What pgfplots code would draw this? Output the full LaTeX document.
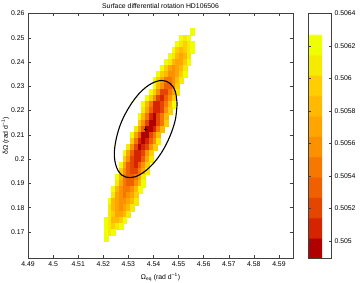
\documentclass[border=0pt]{standalone}
\usepackage{fontspec}
\setmainfont{Liberation Sans}
\usepackage{pgfplots}
\pgfplotsset{compat=1.18}
\usepackage{pgfplotstable}

\pgfplotstableread{
x y z
4.5555 0.2525 0.50621
4.5510 0.2500 0.50621
4.5525 0.2500 0.50609
4.5540 0.2500 0.50621
4.5495 0.2475 0.50621
4.5510 0.2475 0.50609
4.5525 0.2475 0.50596
4.5540 0.2475 0.50609
4.5555 0.2475 0.50621
4.5480 0.2450 0.50621
4.5495 0.2450 0.50596
4.5510 0.2450 0.50584
4.5525 0.2450 0.50596
4.5540 0.2450 0.50609
4.5555 0.2450 0.50621
4.5465 0.2425 0.50621
4.5480 0.2425 0.50609
4.5495 0.2425 0.50584
4.5510 0.2425 0.50571
4.5525 0.2425 0.50584
4.5540 0.2425 0.50609
4.5450 0.2400 0.50621
4.5465 0.2400 0.50609
4.5480 0.2400 0.50584
4.5495 0.2400 0.50571
4.5510 0.2400 0.50571
4.5525 0.2400 0.50596
4.5540 0.2400 0.50621
4.5435 0.2375 0.50621
4.5450 0.2375 0.50596
4.5465 0.2375 0.50571
4.5480 0.2375 0.50558
4.5495 0.2375 0.50571
4.5510 0.2375 0.50584
4.5525 0.2375 0.50609
4.5420 0.2350 0.50621
4.5435 0.2350 0.50596
4.5450 0.2350 0.50584
4.5465 0.2350 0.50558
4.5480 0.2350 0.50558
4.5495 0.2350 0.50571
4.5510 0.2350 0.50596
4.5525 0.2350 0.50621
4.5405 0.2325 0.50621
4.5420 0.2325 0.50596
4.5435 0.2325 0.50571
4.5450 0.2325 0.50546
4.5465 0.2325 0.50546
4.5480 0.2325 0.50558
4.5495 0.2325 0.50584
4.5510 0.2325 0.50609
4.5405 0.2300 0.50621
4.5420 0.2300 0.50584
4.5435 0.2300 0.50558
4.5450 0.2300 0.50533
4.5465 0.2300 0.50533
4.5480 0.2300 0.50558
4.5495 0.2300 0.50596
4.5390 0.2275 0.50621
4.5405 0.2275 0.50596
4.5420 0.2275 0.50558
4.5435 0.2275 0.50521
4.5450 0.2275 0.50521
4.5465 0.2275 0.50546
4.5480 0.2275 0.50571
4.5495 0.2275 0.50609
4.5375 0.2250 0.50621
4.5390 0.2250 0.50596
4.5405 0.2250 0.50558
4.5420 0.2250 0.50521
4.5435 0.2250 0.50508
4.5450 0.2250 0.50533
4.5465 0.2250 0.50558
4.5480 0.2250 0.50596
4.5360 0.2225 0.50621
4.5375 0.2225 0.50584
4.5390 0.2225 0.50546
4.5405 0.2225 0.50508
4.5420 0.2225 0.50508
4.5435 0.2225 0.50521
4.5450 0.2225 0.50546
4.5465 0.2225 0.50584
4.5480 0.2225 0.50621
4.5360 0.2200 0.50609
4.5375 0.2200 0.50571
4.5390 0.2200 0.50533
4.5405 0.2200 0.50508
4.5420 0.2200 0.50508
4.5435 0.2200 0.50521
4.5450 0.2200 0.50558
4.5465 0.2200 0.50596
4.5345 0.2175 0.50621
4.5360 0.2175 0.50584
4.5375 0.2175 0.50546
4.5390 0.2175 0.50508
4.5405 0.2175 0.50496
4.5420 0.2175 0.50521
4.5435 0.2175 0.50546
4.5450 0.2175 0.50584
4.5345 0.2150 0.50596
4.5360 0.2150 0.50558
4.5375 0.2150 0.50521
4.5390 0.2150 0.50496
4.5405 0.2150 0.50496
4.5420 0.2150 0.50521
4.5435 0.2150 0.50546
4.5450 0.2150 0.50596
4.5330 0.2125 0.50609
4.5345 0.2125 0.50571
4.5360 0.2125 0.50533
4.5375 0.2125 0.50496
4.5390 0.2125 0.50496
4.5405 0.2125 0.50508
4.5420 0.2125 0.50546
4.5435 0.2125 0.50584
4.5315 0.2100 0.50621
4.5330 0.2100 0.50571
4.5345 0.2100 0.50533
4.5360 0.2100 0.50496
4.5375 0.2100 0.50496
4.5390 0.2100 0.50521
4.5405 0.2100 0.50546
4.5420 0.2100 0.50584
4.5315 0.2075 0.50596
4.5330 0.2075 0.50546
4.5345 0.2075 0.50508
4.5360 0.2075 0.50496
4.5375 0.2075 0.50508
4.5390 0.2075 0.50533
4.5405 0.2075 0.50558
4.5420 0.2075 0.50609
4.5300 0.2050 0.50609
4.5315 0.2050 0.50558
4.5330 0.2050 0.50521
4.5345 0.2050 0.50496
4.5360 0.2050 0.50508
4.5375 0.2050 0.50521
4.5390 0.2050 0.50558
4.5405 0.2050 0.50596
4.5285 0.2025 0.50621
4.5300 0.2025 0.50571
4.5315 0.2025 0.50533
4.5330 0.2025 0.50508
4.5345 0.2025 0.50508
4.5360 0.2025 0.50521
4.5375 0.2025 0.50558
4.5390 0.2025 0.50596
4.5285 0.2000 0.50596
4.5300 0.2000 0.50558
4.5315 0.2000 0.50521
4.5330 0.2000 0.50508
4.5345 0.2000 0.50508
4.5360 0.2000 0.50533
4.5375 0.2000 0.50571
4.5390 0.2000 0.50609
4.5270 0.1975 0.50621
4.5285 0.1975 0.50571
4.5300 0.1975 0.50533
4.5315 0.1975 0.50521
4.5330 0.1975 0.50508
4.5345 0.1975 0.50533
4.5360 0.1975 0.50558
4.5375 0.1975 0.50596
4.5270 0.1950 0.50596
4.5285 0.1950 0.50558
4.5300 0.1950 0.50533
4.5315 0.1950 0.50521
4.5330 0.1950 0.50521
4.5345 0.1950 0.50546
4.5360 0.1950 0.50571
4.5375 0.1950 0.50609
4.5255 0.1925 0.50621
4.5270 0.1925 0.50584
4.5285 0.1925 0.50546
4.5300 0.1925 0.50533
4.5315 0.1925 0.50533
4.5330 0.1925 0.50546
4.5345 0.1925 0.50571
4.5360 0.1925 0.50609
4.5255 0.1900 0.50609
4.5270 0.1900 0.50571
4.5285 0.1900 0.50546
4.5300 0.1900 0.50533
4.5315 0.1900 0.50533
4.5330 0.1900 0.50558
4.5345 0.1900 0.50584
4.5360 0.1900 0.50621
4.5240 0.1875 0.50621
4.5255 0.1875 0.50584
4.5270 0.1875 0.50558
4.5285 0.1875 0.50546
4.5300 0.1875 0.50546
4.5315 0.1875 0.50558
4.5330 0.1875 0.50584
4.5345 0.1875 0.50621
4.5240 0.1850 0.50609
4.5255 0.1850 0.50571
4.5270 0.1850 0.50558
4.5285 0.1850 0.50546
4.5300 0.1850 0.50558
4.5315 0.1850 0.50571
4.5330 0.1850 0.50596
4.5225 0.1825 0.50621
4.5240 0.1825 0.50584
4.5255 0.1825 0.50571
4.5270 0.1825 0.50558
4.5285 0.1825 0.50558
4.5300 0.1825 0.50571
4.5315 0.1825 0.50584
4.5330 0.1825 0.50609
4.5225 0.1800 0.50609
4.5240 0.1800 0.50584
4.5255 0.1800 0.50571
4.5270 0.1800 0.50558
4.5285 0.1800 0.50571
4.5300 0.1800 0.50584
4.5315 0.1800 0.50609
4.5225 0.1775 0.50609
4.5240 0.1775 0.50596
4.5255 0.1775 0.50571
4.5270 0.1775 0.50571
4.5285 0.1775 0.50584
4.5300 0.1775 0.50609
4.5210 0.1750 0.50621
4.5225 0.1750 0.50609
4.5240 0.1750 0.50584
4.5255 0.1750 0.50584
4.5270 0.1750 0.50596
4.5285 0.1750 0.50621
4.5210 0.1725 0.50621
4.5225 0.1725 0.50609
4.5240 0.1725 0.50596
4.5255 0.1725 0.50609
4.5270 0.1725 0.50621
4.5210 0.1700 0.50621
4.5225 0.1700 0.50609
4.5240 0.1700 0.50621
4.5210 0.1675 0.50621
}\cells

\begin{document}
\begin{tikzpicture}
\useasboundingbox (-28bp,-25bp) rectangle (333bp,258bp);
\begin{axis}[
  scale only axis,
  clip mode=individual,
  width=265bp, height=244.5bp,
  xmin=4.49, xmax=4.5956, ymin=0.1593, ymax=0.26,
  font=\fontsize{6.9}{8}\selectfont,
  /pgf/number format/assume math mode=true,
  scaled ticks=false,
  xtick={4.49,4.5,4.51,4.52,4.53,4.54,4.55,4.56,4.57,4.58,4.59},
  xticklabels={4.49,4.5,4.51,4.52,4.53,4.54,4.55,4.56,4.57,4.58,4.59},
  ytick={0.17,0.18,0.19,0.2,0.21,0.22,0.23,0.24,0.25,0.26},
  yticklabels={0.17,0.18,0.19,0.2,0.21,0.22,0.23,0.24,0.25,0.26},
  tick align=inside, tick pos=both,
  major tick length=3bp,
  axis line style={black!75, line width=0.5bp},
  every tick/.style={black!75, line width=0.5bp},
  title={Surface differential rotation HD106506},
  title style={yshift=-5bp},
  xlabel={Ω\textsubscript{eq} (rad d\textsuperscript{−1})},
  ylabel={δΩ (rad d\textsuperscript{−1})},
  ylabel shift=-5bp,
  colormap={chi}{
    rgb255(0pt)=(176,0,0) rgb255(19pt)=(176,0,0)
    rgb255(20pt)=(214,35,0) rgb255(39pt)=(214,35,0)
    rgb255(40pt)=(228,70,0) rgb255(59pt)=(228,70,0)
    rgb255(60pt)=(240,95,0) rgb255(79pt)=(240,95,0)
    rgb255(80pt)=(247,120,0) rgb255(99pt)=(247,120,0)
    rgb255(100pt)=(252,145,0) rgb255(119pt)=(252,145,0)
    rgb255(120pt)=(255,165,0) rgb255(139pt)=(255,165,0)
    rgb255(140pt)=(255,185,0) rgb255(159pt)=(255,185,0)
    rgb255(160pt)=(255,205,0) rgb255(179pt)=(255,205,0)
    rgb255(180pt)=(245,235,0) rgb255(199pt)=(245,235,0)
    rgb255(200pt)=(240,255,0) rgb255(219pt)=(240,255,0)
    rgb255(220pt)=(255,255,255) rgb255(240pt)=(255,255,255)},
  point meta min=0.504895, point meta max=0.5064,
  colorbar,
  colorbar style={
    scale only axis,
    width=23bp, height=244.5bp,
    at={(parent axis.north east)}, anchor=north west, xshift=6.5bp,
    ytick={0.505,0.5052,0.5054,0.5056,0.5058,0.506,0.5062,0.5064},
    yticklabels={0.505,0.5052,0.5054,0.5056,0.5058,0.506,0.5062,0.5064},
    scaled y ticks=false,
    ytick pos=both, yticklabel pos=right,
    tick align=inside,
    major tick length=2.5bp,
    font=\fontsize{6.9}{8}\selectfont,
    axis line style={black!75, line width=0.5bp},
  },
]
\addplot[scatter, only marks, point meta=explicit, mark=square*, mark size=1.95bp,
  scatter/use mapped color={draw=mapped color, fill=mapped color},
  mark options={yscale=1.62, line width=0.2bp}] table[x=x, y=y, meta=z] {\cells};
\addplot[black, line width=1.1bp, smooth, tension=0.6] coordinates {
(4.5494,0.2227) (4.5487,0.2279) (4.5465,0.2313) (4.5432,0.2324)
(4.5391,0.2311) (4.5347,0.2275) (4.5307,0.2221) (4.5273,0.2155)
(4.5252,0.2086) (4.5244,0.2021) (4.5252,0.1969) (4.5273,0.1935)
(4.5307,0.1924) (4.5347,0.1937) (4.5391,0.1973) (4.5432,0.2027)
(4.5465,0.2093) (4.5487,0.2162) (4.5494,0.2227)};
\addplot[only marks, mark=+, black, mark size=2bp, line width=0.8bp] coordinates {(4.5369,0.2124)};
\end{axis}
\end{tikzpicture}
\end{document}
